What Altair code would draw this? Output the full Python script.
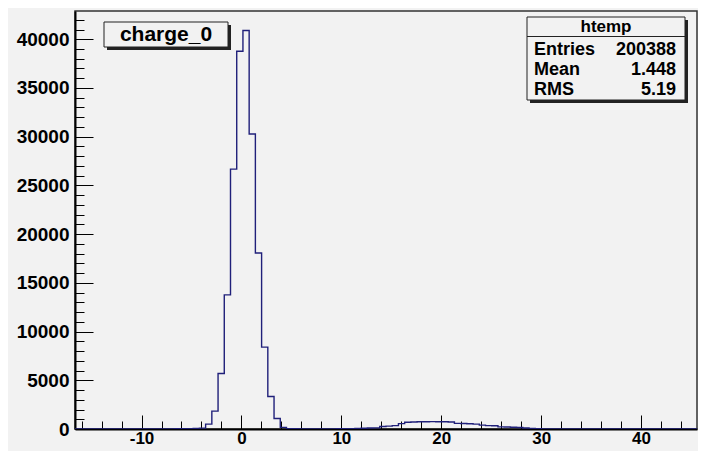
import altair as alt
import pandas as pd

# histogram definition (ROOT "htemp", 100 bins)
x_min = -16.66
x_max = 45.6
n_bins = 100
y_max = 42900

counts = [
    3, 2, 4, 3, 5, 4, 6, 5, 7, 6,            # 0-9
    8, 9, 10, 12, 14, 16, 20, 25, 35, 50,    # 10-19
    90, 500, 1830, 5700, 13770, 26670, 38770, 40900, 30270, 18070,  # 20-29
    8400, 3330, 1070, 170, 40, 20, 15, 12, 10, 10,                  # 30-39
    12, 15, 20, 30, 40, 60, 80, 100, 120, 250,                      # 40-49
    300, 350, 550, 700, 720, 740, 750, 760, 750, 740,               # 50-59
    720, 580, 560, 540, 500, 400, 350, 330, 220, 200,               # 60-69
    180, 150, 100, 50, 20, 10, 0, 0, 0, 0,                          # 70-79
    0, 0, 0, 0, 0, 0, 0, 0, 0, 0,                                   # 80-89
    0, 0, 0, 0, 0, 0, 0, 0, 0, 0,                                   # 90-99
]

x_label_ticks = [-10, 0, 10, 20, 30, 40]
x_minor_ticks = list(range(-16, 46, 2))
y_label_ticks = [0, 5000, 10000, 15000, 20000, 25000, 30000, 35000, 40000]
y_minor_ticks = list(range(0, 43000, 1000))

title_text = "charge_0"
stats_title = "htemp"
stats_names = ["Entries", "Mean", "RMS"]
stats_values = ["200388", "1.448", "5.19"]

FONT = "Liberation Sans"
W, H = 622, 418

bw = (x_max - x_min) / n_bins
edges = [x_min + i * bw for i in range(n_bins + 1)]
df = pd.DataFrame({"edge": edges, "count": counts + [counts[-1]]})

xs = alt.Scale(domain=[x_min, x_max], nice=False, zero=False)
ys = alt.Scale(domain=[0, y_max], nice=False, zero=True)

hist = alt.Chart(df).mark_line(
    interpolate="step-after", color="#20207a", strokeWidth=1.4, clip=True
).encode(
    x=alt.X("edge:Q", scale=xs, axis=alt.Axis(
        orient="bottom", values=x_label_ticks, ticks=False, grid=False,
        domain=True, domainColor="black", domainWidth=2,
        labelFont=FONT, labelFontSize=17, labelFontWeight="bold",
        labelColor="black", labelPadding=1, title=None,
        labelExpr="datum.value < 0 ? '-' + abs(datum.value) : '' + datum.value",
        labelFlush=False)),
    y=alt.Y("count:Q", scale=ys, axis=alt.Axis(
        orient="left", values=y_label_ticks, ticks=False, grid=False,
        domain=True, domainColor="black", domainWidth=2,
        labelFont=FONT, labelFontSize=19, labelFontWeight="bold",
        labelColor="black", labelPadding=6, title=None, format="d")),
)

major = alt.Chart(df).mark_point(opacity=0).encode(
    x=alt.X("edge:Q", scale=xs, axis=alt.Axis(
        orient="bottom", offset=-14, values=x_label_ticks, tickSize=14,
        labels=False, domain=False, grid=False, title=None,
        tickColor="black", tickWidth=1)),
    y=alt.Y("count:Q", scale=ys, axis=alt.Axis(
        orient="left", offset=-18, values=y_label_ticks, tickSize=18,
        labels=False, domain=False, grid=False, title=None,
        tickColor="black", tickWidth=1)),
)

minor = alt.Chart(df).mark_point(opacity=0).encode(
    x=alt.X("edge:Q", scale=xs, axis=alt.Axis(
        orient="bottom", offset=-8, values=x_minor_ticks, tickSize=8,
        labels=False, domain=False, grid=False, title=None,
        tickColor="black", tickWidth=1)),
    y=alt.Y("count:Q", scale=ys, axis=alt.Axis(
        orient="left", offset=-9, values=y_minor_ticks, tickSize=9,
        labels=False, domain=False, grid=False, title=None,
        tickColor="black", tickWidth=1)),
)

one = pd.DataFrame({"k": [0]})

def box(x1, y1, x2, y2):
    shadow = alt.Chart(one).mark_rect(color="#222222").encode(
        x=alt.value(x1 + 3), x2=alt.value(x2 + 3),
        y=alt.value(y1 + 3), y2=alt.value(y2 + 3))
    face = alt.Chart(one).mark_rect(
        fill="#f2f2f2", stroke="#222222", strokeWidth=1).encode(
        x=alt.value(x1), x2=alt.value(x2),
        y=alt.value(y1), y2=alt.value(y2))
    return [shadow, face]

title_layers = box(29, 11, 153, 36) + [
    alt.Chart(one).mark_text(
        text=title_text, font=FONT, fontSize=21, fontWeight="bold",
        color="black", align="center", baseline="middle").encode(
        x=alt.value(91), y=alt.value(24))
]

stats_layers = box(452, 6, 610, 89) + [
    alt.Chart(one).mark_rule(color="#222222", strokeWidth=1).encode(
        x=alt.value(452), x2=alt.value(610), y=alt.value(25.5)),
    alt.Chart(one).mark_text(
        text=stats_title, font=FONT, fontSize=17, fontWeight="bold",
        color="black", align="center", baseline="middle").encode(
        x=alt.value(531), y=alt.value(15.5)),
]
row_y = [39, 59, 78.5]
for name, val, yy in zip(stats_names, stats_values, row_y):
    stats_layers.append(alt.Chart(one).mark_text(
        text=name, font=FONT, fontSize=18, fontWeight="bold",
        color="black", align="left", baseline="middle").encode(
        x=alt.value(459), y=alt.value(yy)))
    stats_layers.append(alt.Chart(one).mark_text(
        text=val, font=FONT, fontSize=18, fontWeight="bold",
        color="black", align="right", baseline="middle").encode(
        x=alt.value(601), y=alt.value(yy)))

chart = alt.layer(hist, major, minor, *title_layers, *stats_layers).resolve_axis(
    x="independent", y="independent"
).properties(
    width=W, height=H,
    autosize=alt.AutoSizeParams(type="none"),
    padding={"left": 67, "top": 3, "right": 1, "bottom": 22},
    background="#f2f2f2",
).configure_view(stroke="#333333", strokeWidth=1.5)

chart.save("out.html", embed_options={"renderer": "svg", "actions": False})
